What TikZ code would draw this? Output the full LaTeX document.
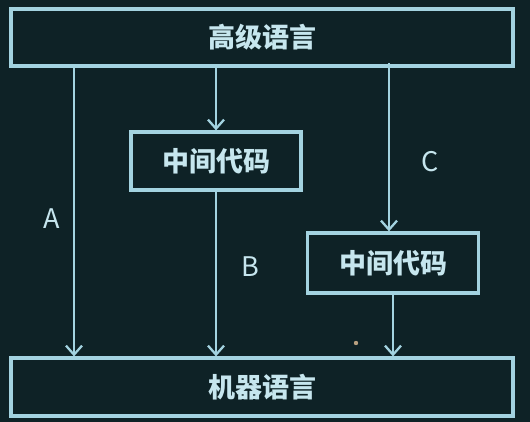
\documentclass[tikz,border=0pt]{standalone}
\usepackage{fontspec}
\setmainfont{Noto Sans CJK SC}
\usetikzlibrary{arrows.meta}
\definecolor{bgc}{HTML}{0E2226}
\definecolor{linec}{HTML}{A3D3E0}
\definecolor{textc}{HTML}{C6E6EE}
\definecolor{dotc}{HTML}{B8A080}
\begin{document}
\begin{tikzpicture}[x=1pt,y=-1pt,
  box/.style={draw=linec,line width=3.2pt,inner sep=0pt,text=textc,font=\fontsize{27}{30}\selectfont\bfseries},
  conn/.style={draw=linec,line width=2.3pt,-{Straight Barb[length=9pt,width=16pt,line width=2.3pt]}},
  lab/.style={text=textc,font=\fontsize{27}{30}\selectfont}]
\fill[bgc] (0,0) rectangle (530,422);
\useasboundingbox (0,0) rectangle (530,422);
\node[box,minimum width=502pt,minimum height=57pt] (hl) at (262,37.5) {高级语言};
\node[box,minimum width=170pt,minimum height=58pt] (m1) at (216,161) {中间代码};
\node[box,minimum width=171pt,minimum height=60pt] (m2) at (393,263) {中间代码};
\node[box,minimum width=502pt,minimum height=58pt] (ml) at (262,387) {机器语言};
\draw[conn] (hl.south -| 74,0) -- (ml.north -| 74,0);
\draw[conn] (hl.south -| m1.north) -- (m1.north);
\draw[conn] (m1.south) -- (ml.north -| m1.south);
\draw[conn] (389,63) coordinate (cs) -- (m2.north -| cs);
\draw[conn] (m2.south) -- (ml.north -| m2.south);
\node[lab] (la) at (52,219) {A};
\node[lab] (lb) at (250,267) {B};
\node[lab] (lc) at (430,162) {C};
\fill[dotc] (356,343) circle (2.2pt);
\end{tikzpicture}
\end{document}
